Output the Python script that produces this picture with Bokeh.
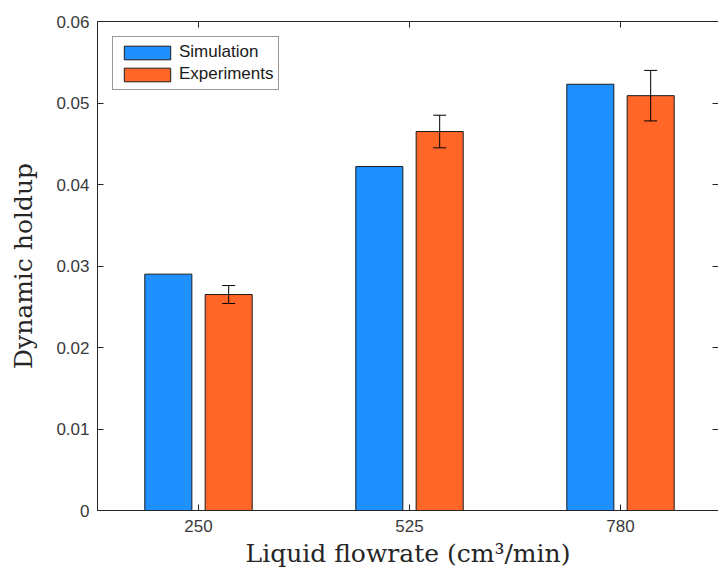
from bokeh.plotting import figure
from bokeh.models import (ColumnDataSource, FixedTicker, LinearAxis, Range1d,
                          Whisker, TeeHead, Legend, LegendItem)
from bokeh.embed import file_html
from bokeh.resources import INLINE

# ---- data ----
flowrates = ["250", "525", "780"]
positions = [1, 2, 3]
simulation = [0.0290, 0.0422, 0.0523]
experiments = [0.0265, 0.0465, 0.0509]
exp_error = [0.0011, 0.0020, 0.0031]
y_ticks = [0, 0.01, 0.02, 0.03, 0.04, 0.05, 0.06]

BLUE = "#1E90FF"
ORANGE = "#FF6628"
AXIS = "#262626"
TICKTXT = "#3a3a3a"

offset = 0.143
bar_w = 0.223

src_sim = ColumnDataSource(dict(x=[p - offset for p in positions], top=simulation))
src_exp = ColumnDataSource(dict(
    x=[p + offset for p in positions], top=experiments,
    upper=[v + e for v, e in zip(experiments, exp_error)],
    lower=[v - e for v, e in zip(experiments, exp_error)]))

x_start = 1 - 101 / 211
x_end = x_start + 621 / 211

p = figure(width=718, height=579, output_backend="svg", toolbar_location=None,
           x_range=Range1d(x_start, x_end), y_range=Range1d(0, 0.06),
           min_border_left=97, min_border_right=0, min_border_top=21,
           min_border_bottom=69, x_axis_location=None, y_axis_location=None)
p.outline_line_color = None
p.grid.visible = False
p.background_fill_color = "white"
p.border_fill_color = "white"

r_sim = p.vbar(x="x", top="top", width=bar_w, source=src_sim, fill_color=BLUE,
               line_color="#1a1a1a", line_width=1)
r_exp = p.vbar(x="x", top="top", width=bar_w, source=src_exp, fill_color=ORANGE,
               line_color="#1a1a1a", line_width=1)

wh = Whisker(source=src_exp, base="x", upper="upper", lower="lower",
             dimension="height", line_color="black", line_width=1,
             upper_head=TeeHead(size=13, line_color="black", line_width=1),
             lower_head=TeeHead(size=13, line_color="black", line_width=1),
             level="overlay")
p.add_layout(wh)

serif = "DejaVu Serif"
sans = "Liberation Sans"


def style_axis(ax):
    ax.axis_line_color = AXIS
    ax.axis_line_width = 1
    ax.major_tick_line_color = AXIS
    ax.major_tick_in = 6
    ax.major_tick_out = 0
    ax.minor_tick_line_color = None
    ax.major_label_text_font = sans
    ax.major_label_text_font_size = "17px"
    ax.major_label_text_color = TICKTXT


# bottom axis
xb = LinearAxis(ticker=FixedTicker(ticks=positions),
                major_label_overrides={pos: lab for pos, lab in zip(positions, flowrates)})
style_axis(xb)
xb.major_label_standoff = 9
xb.axis_label = "Liquid flowrate (cm³/min)"
xb.axis_label_text_font = serif
xb.axis_label_text_font_style = "normal"
xb.axis_label_text_font_size = "25px"
xb.axis_label_text_color = "#262626"
xb.axis_label_standoff = 4
p.add_layout(xb, "below")

# left axis
yl = LinearAxis(ticker=FixedTicker(ticks=y_ticks),
                major_label_overrides={0: "0"})
style_axis(yl)
yl.major_label_standoff = 8
yl.axis_label = "Dynamic holdup"
yl.axis_label_text_font = serif
yl.axis_label_text_font_style = "normal"
yl.axis_label_text_font_size = "25px"
yl.axis_label_text_color = "#262626"
yl.axis_label_standoff = 15
p.add_layout(yl, "left")

# top axis (ticks only, no labels drawn)
xt = LinearAxis(ticker=FixedTicker(ticks=positions),
                major_label_overrides={pos: "" for pos in positions})
style_axis(xt)
xt.major_label_text_color = None
xt.major_label_standoff = 0
p.add_layout(xt, "above")

# right axis (ticks only, its line lies beyond the visible edge in the reference)
yr = LinearAxis(ticker=FixedTicker(ticks=y_ticks),
                major_label_overrides={t: "" for t in y_ticks})
style_axis(yr)
yr.axis_line_color = None
yr.major_label_text_color = None
yr.major_label_standoff = 0
p.add_layout(yr, "right")

legend = Legend(items=[LegendItem(label="Simulation", renderers=[r_sim]),
                       LegendItem(label="Experiments", renderers=[r_exp])],
                location="top_left")
legend.margin = 15
legend.padding = 5
legend.spacing = 2
legend.glyph_width = 58
legend.glyph_height = 17
legend.label_height = 17
legend.label_standoff = 3
legend.label_text_font = sans
legend.label_text_font_size = "17px"
legend.label_text_color = "#1a1a1a"
legend.border_line_color = "#333333"
legend.border_line_width = 1
legend.background_fill_color = "white"
legend.background_fill_alpha = 1
p.add_layout(legend, "center")

open("out.html", "w").write(file_html(p, INLINE))
